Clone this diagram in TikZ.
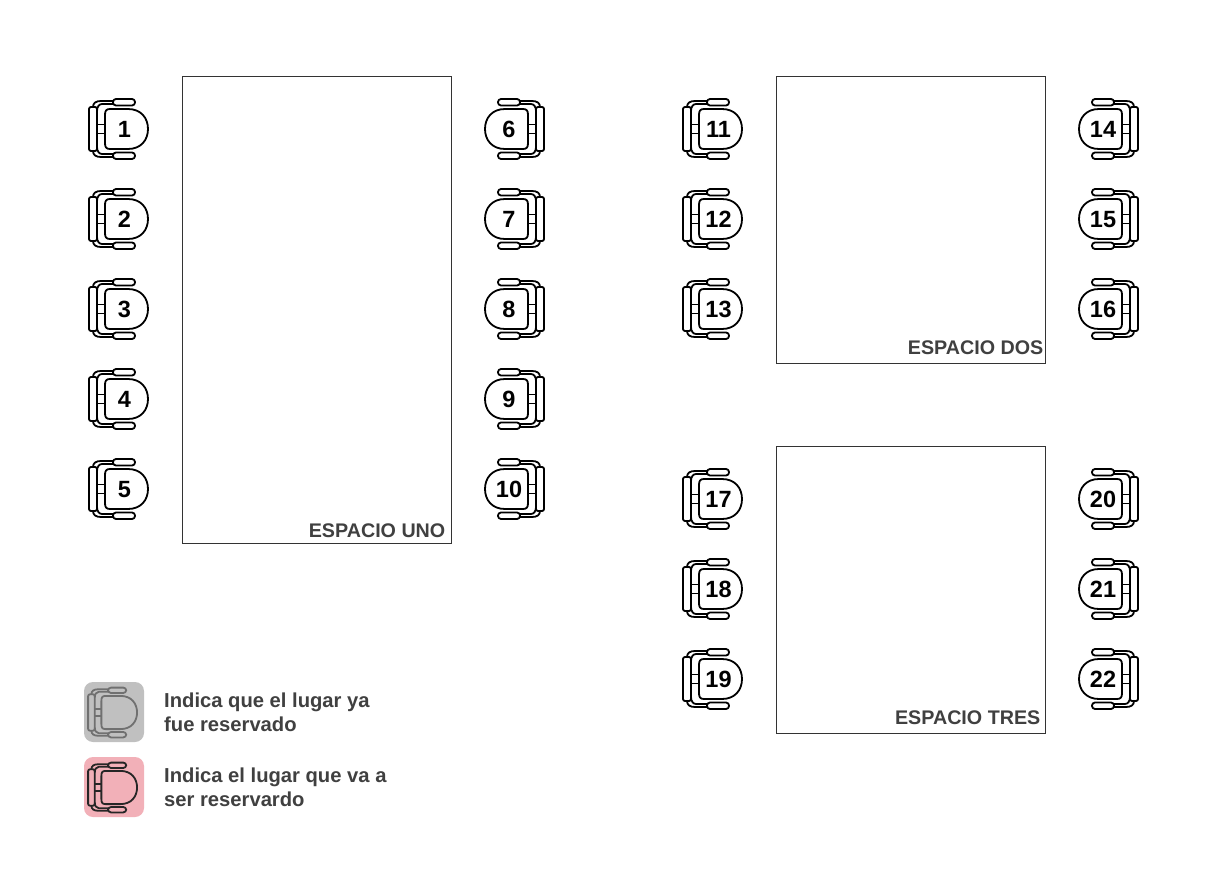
\documentclass[tikz,border=0pt]{standalone}
\usepackage{fontspec}
\setmainfont{Liberation Sans}
\definecolor{txt}{HTML}{404040}
\definecolor{greybox}{HTML}{C0C0C0}
\definecolor{pinkbox}{HTML}{F2B0B8}
\definecolor{greyline}{HTML}{707070}
\tikzset{
  room/.style={draw=black!80,line width=0.9pt,fill=white},
  roomlabel/.style={font=\bfseries\fontsize{19.7}{24}\selectfont,text=txt,inner sep=0pt},
  seatnum/.style={font=\bfseries\fontsize{23.5}{26}\selectfont,text=black,inner sep=0pt},
  legendtext/.style={font=\bfseries\fontsize{20.2}{24}\selectfont,text=txt,inner sep=0pt,align=left,anchor=west},
  legendbox/.style={rounded corners=9pt},
  chairline/.style={line width=1.8pt,line join=round},
  pics/chair/.style={code={
    % connector arcs
    \draw[chairline,#1] (-6,-28) -- (-18,-28) .. controls (-23,-28) and (-26,-26) .. (-26,-22);
    \draw[chairline,#1] (-6,-25) -- (-17,-25) .. controls (-20,-25) and (-22,-22) .. (-22,-18);
    \draw[chairline,#1] (-6,28) -- (-18,28) .. controls (-23,28) and (-26,26) .. (-26,22);
    \draw[chairline,#1] (-6,25) -- (-17,25) .. controls (-20,25) and (-22,22) .. (-22,18);
    % arm rests
    \draw[chairline,#1,rounded corners=3pt] (-6,-30) rectangle (16,-23.5);
    \draw[chairline,#1,rounded corners=3pt] (-6,23.5) rectangle (16,30);
    % back
    \draw[chairline,#1,rounded corners=2pt] (-30,-22) rectangle (-22,22);
    % links
    \draw[chairline,#1] (-22,-4.5) -- (-14,-4.5) (-22,4.5) -- (-14,4.5);
    % seat
    \draw[chairline,#1] (-14,-14) .. controls (-14,-18) and (-13,-20) .. (-9,-20) -- (9,-20)
       .. controls (22,-20) and (29,-11) .. (29,0) .. controls (29,11) and (22,20) .. (9,20)
       -- (-9,20) .. controls (-13,20) and (-14,18) .. (-14,14) -- cycle;
  }}
}
\begin{document}
\begin{tikzpicture}[x=1pt,y=-1pt]
\useasboundingbox (0,0) rectangle (1232,896);
\fill[white] (0,0) rectangle (1232,896);
% rooms
\node[room,minimum width=269pt,minimum height=467pt,inner sep=0pt] (uno) at (316.5,310) {};
\node[room,minimum width=269pt,minimum height=287pt,inner sep=0pt] (dos) at (910.5,220) {};
\node[room,minimum width=269pt,minimum height=287pt,inner sep=0pt] (tres) at (910.5,590) {};
\node[roomlabel,anchor=east] (luno) at (445.5,531) {ESPACIO UNO};
\node[roomlabel,anchor=east] (ldos) at (1043.5,348) {ESPACIO DOS};
\node[roomlabel,anchor=east] (ltres) at (1040.5,718) {ESPACIO TRES};
% chairs facing right
\foreach \n/\x/\y in {1/119/129,2/119/219,3/119/309,4/119/399,5/119/489,
  11/713/129,12/713/219,13/713/309,17/713/499,18/713/589,19/713/679}{
  \pic[transform shape] at (\x,\y) {chair={black}};
  \node[seatnum] (s\n) at (\x+5.5,\y+0.5) {\n};
}
% chairs facing left
\foreach \n/\x/\y in {6/514/129,7/514/219,8/514/309,9/514/399,10/514/489,
  14/1108/129,15/1108/219,16/1108/309,20/1108/499,21/1108/589,22/1108/679}{
  \begin{scope}[shift={(\x,\y)},xscale=-1]
  \pic[transform shape] at (0,0) {chair={black}};
  \end{scope}
  \node[seatnum] (s\n) at (\x-5,\y+0.5) {\n};
}
% legend
\fill[greybox,legendbox] (84,682) rectangle (144,742);
\begin{scope}[shift={(113,712.5)},scale=0.83]
  \pic[transform shape] at (0,0) {chair={greyline}};
\end{scope}
\fill[pinkbox,legendbox] (84,757) rectangle (144,817);
\begin{scope}[shift={(113,787.5)},scale=0.83]
  \pic[transform shape] at (0,0) {chair={black!85}};
\end{scope}
\node[legendtext] (t1) at (164,712) {Indica que el lugar ya\\fue reservado};
\node[legendtext] (t2) at (164,787) {Indica el lugar que va a\\ser reservardo};
\end{tikzpicture}
\end{document}
